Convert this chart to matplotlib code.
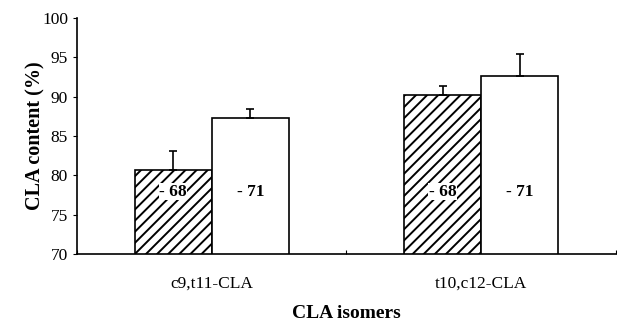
import matplotlib
matplotlib.use("Agg")
import matplotlib.pyplot as plt
import numpy as np

plt.rcParams['font.family'] = ['Liberation Serif', 'DejaVu Serif']
plt.rcParams['hatch.linewidth'] = 1.4

# donnees
isomers = ["c9,t11-CLA", "t10,c12-CLA"]
hatched_vals = [80.7, 90.2]
hatched_err = [2.4, 1.2]
white_vals = [87.3, 92.6]
white_err = [1.1, 2.8]
bar_labels = ["- 68", "- 71"]

fig = plt.figure(figsize=(6.17, 3.28), dpi=100)
ax = fig.add_axes([0.125, 0.226, 0.873, 0.719])

x = np.arange(len(isomers))
w = 0.286
ax.bar(x - w / 2, hatched_vals, w, bottom=0, color="white", edgecolor="black",
       hatch="///", linewidth=1.2,
       yerr=[np.zeros(2), hatched_err], error_kw=dict(capsize=3, elinewidth=1.2, capthick=1.2))
ax.bar(x + w / 2, white_vals, w, color="white", edgecolor="black", linewidth=1.2,
       yerr=[np.zeros(2), white_err], error_kw=dict(capsize=3, elinewidth=1.2, capthick=1.2))

for i in range(len(isomers)):
    ax.text(x[i] - w / 2, 77.9, bar_labels[0], ha="center", va="center", fontsize=12.5,
            fontweight="bold", bbox=dict(facecolor="white", edgecolor="none", pad=0.3))
    ax.text(x[i] + w / 2, 77.9, bar_labels[1], ha="center", va="center", fontsize=12.5,
            fontweight="bold")

ax.set_ylim(70, 100)
ax.set_xlim(-0.5, 1.5)
ax.set_yticks(np.arange(70, 101, 5))
ax.set_xticks([-0.5, 0.5, 1.5])
ax.set_xticklabels([])
ax.set_xticks(x, minor=True)
ax.set_xticklabels(isomers, minor=True)
ax.tick_params(axis="x", which="major", direction="in", length=3)
ax.tick_params(axis="x", which="minor", length=0, pad=16, labelsize=12.5)
ax.tick_params(axis="y", direction="out", length=3, labelsize=12.5)

for s in ["top", "right"]:
    ax.spines[s].set_visible(False)
for s in ["left", "bottom"]:
    ax.spines[s].set_linewidth(1.2)

ax.set_ylabel("CLA content (%)", fontsize=14.5, fontweight="bold", va="center")
ax.yaxis.set_label_coords(-0.078, 0.5)
ax.set_xlabel("CLA isomers", fontsize=14, fontweight="bold", va="center")
ax.xaxis.set_label_coords(0.5, -0.254)

fig.savefig("out.png", dpi=100)
